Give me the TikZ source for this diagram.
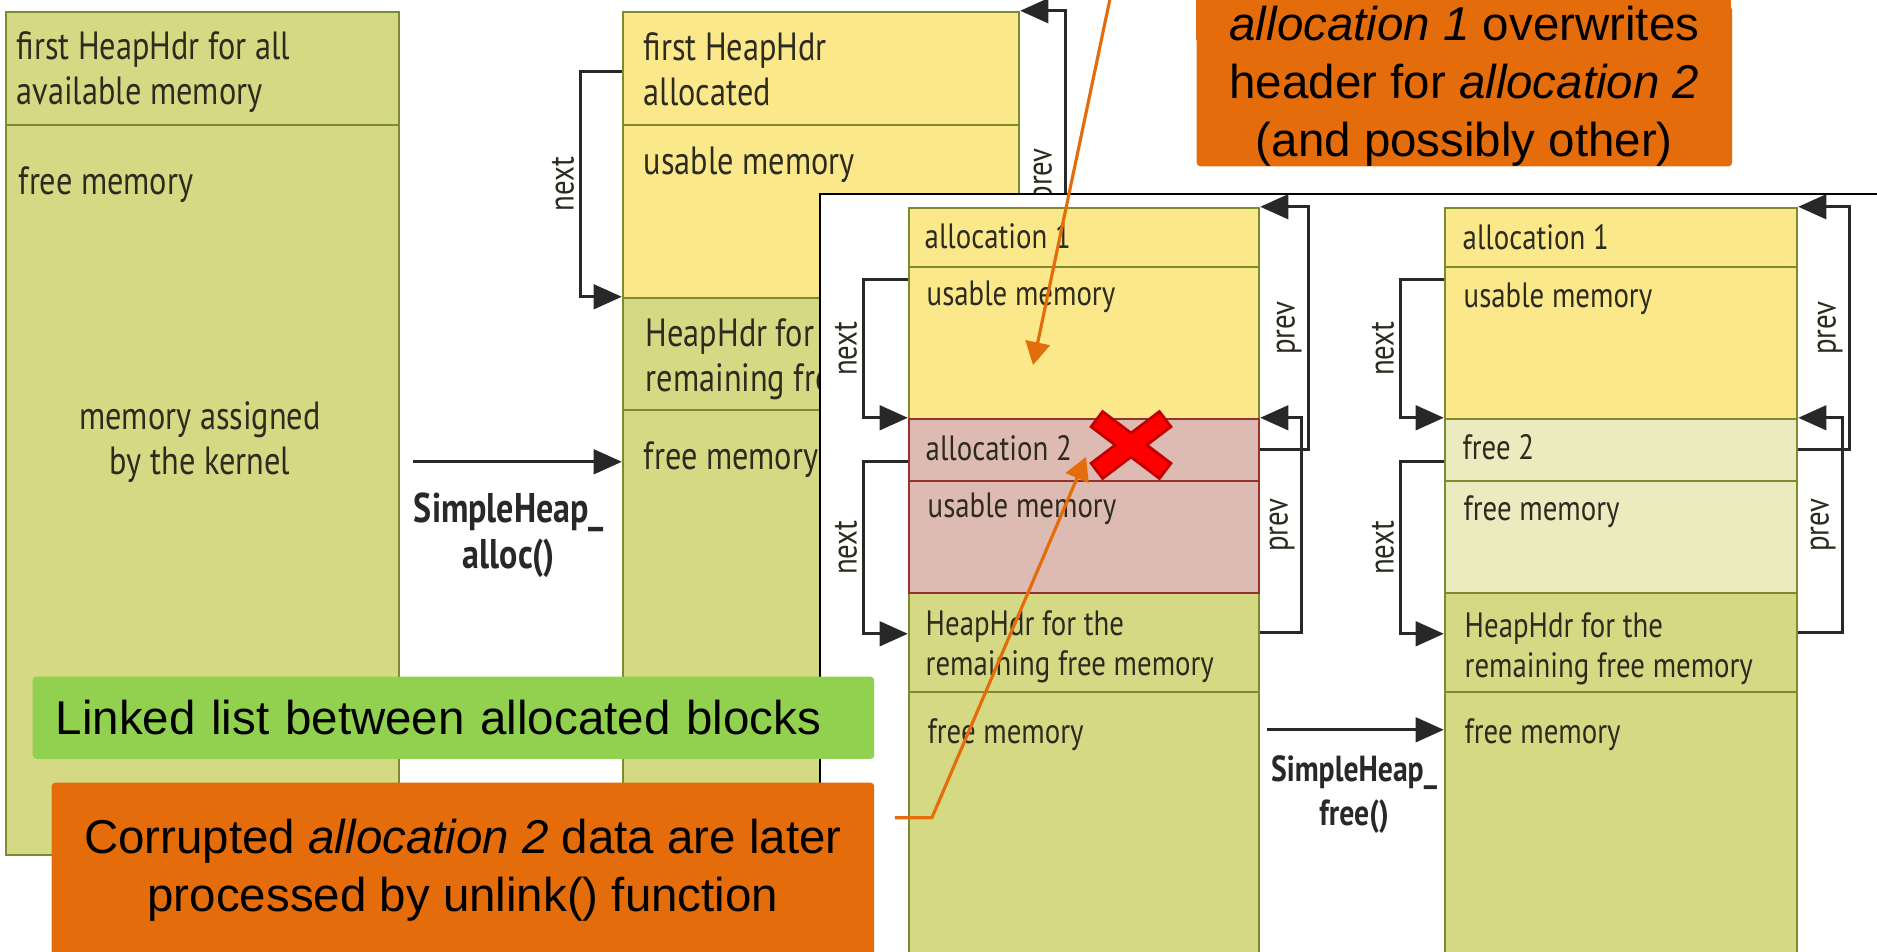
\documentclass[tikz,border=0pt]{standalone}
\usepackage{fontspec}
\setmainfont{Liberation Sans}
\newfontfamily\memfont[FakeStretch=0.82]{PT Sans}
\usepackage{tikz}
\usetikzlibrary{positioning,fit,calc,arrows.meta}

\definecolor{rowGreen}{RGB}{213,217,131}
\definecolor{rowYellow}{RGB}{250,232,138}
\definecolor{rowPink}{RGB}{221,186,178}
\definecolor{rowPale}{RGB}{234,236,192}
\definecolor{rowEdge}{RGB}{125,138,45}
\definecolor{pinkEdge}{RGB}{150,50,45}
\definecolor{memText}{RGB}{45,42,30}
\definecolor{linkGray}{RGB}{40,40,40}
\definecolor{noteOrange}{RGB}{228,108,10}
\definecolor{noteGreen}{RGB}{146,208,80}
\definecolor{crossRed}{RGB}{255,0,0}
\definecolor{crossEdge}{RGB}{192,0,0}

\begin{document}
\begin{tikzpicture}[x=0.01cm,y=0.01cm,
    memrow/.style={draw=rowEdge,line width=0.7pt,inner sep=0pt},
    greenrow/.style={memrow,fill=rowGreen},
    yellowrow/.style={memrow,fill=rowYellow},
    pinkrow/.style={memrow,fill=rowPink,draw=pinkEdge},
    palerow/.style={memrow,fill=rowPale},
    memtxt/.style={font=\memfont\fontsize{10}{11.5}\selectfont,text=memText,
        anchor=north west,inner sep=0pt,align=left},
    bigtxt/.style={memtxt,font=\memfont\fontsize{11.2}{12.8}\selectfont},
    ptrlbl/.style={font=\memfont\fontsize{10}{12}\selectfont,text=memText,
        rotate=90,inner sep=1.5pt},
    fnlbl/.style={font=\memfont\bfseries\fontsize{11.8}{13}\selectfont,
        text=linkGray,align=center,inner sep=0pt},
    link/.style={draw=linkGray,line width=0.8pt,-{Triangle[length=8pt,width=7pt]}},
    hint/.style={draw=noteOrange,line width=0.9pt,-{Triangle[length=6.5pt,width=7pt]}},
    notebox/.style={fill=noteOrange,rounded corners=1pt,inner sep=0pt,align=center,
        font=\fontsize{13.5}{16.5}\selectfont},
    xstroke/.style={line width=#1,line cap=butt}
]
\fill[white] (0,0) rectangle (1877,-951);
\useasboundingbox (0,0) rectangle (1877,-951);
\clip (0,0) rectangle (1877,-951);

% whole heap before any allocation
\node[greenrow,fit={(6,-12) (399,-125)}] (a1) {};
\node[greenrow,fit={(6,-125) (399,-855)}] (a2) {};
\node[bigtxt] (a1t) at (16,-31) {first HeapHdr for all\\available memory};
\node[bigtxt] (a2t) at (18,-166) {free memory};
\node[bigtxt,anchor=center,align=center] (a2m) at (200,-442) {memory assigned\\by the kernel};

% heap after the first allocation
\node[yellowrow,fit={(623,-12) (1019,-125)}] (b1) {};
\node[yellowrow,fit={(623,-125) (1019,-298)}] (b2) {};
\node[greenrow,fit={(623,-298) (1019,-410)}] (b3) {};
\node[greenrow,fit={(623,-410) (1019,-855)}] (b4) {};
\node[bigtxt] (b1t) at (643,-32) {first HeapHdr\\allocated};
\node[bigtxt] (b2t) at (643,-146) {usable memory};
\node[bigtxt] (b3t) at (645,-318) {HeapHdr for the\\remaining free memory};
\node[bigtxt] (b4t) at (643,-441) {free memory};
\draw[link] ([shift={(0,-61)}]b1.north west) -- ++(-41,0)
    |- node[ptrlbl,pos=0.25,above] (bnext) {next} (b3.north west);
\draw[link] ([shift={(0,-42)}]b3.north east) -- ++(45,0)
    |- node[ptrlbl,pos=0.25,above] (bprev) {prev} (b1.north east);

\draw[link] ([shift={(13,-338)}]a2.north east) -- ([shift={(0,-53)}]b4.north west);
\node[fnlbl] (alloclbl) at (509,-535) {SimpleHeap\_\\alloc()};

% inset: overflow and free
\node[draw=black,line width=0.8pt,fill=white,inner sep=0pt,
    fit={(820,-194) (1900,-990)}] (inset) {};

\node[yellowrow,fit={(909,-208) (1259,-267)}] (c1) {};
\node[yellowrow,fit={(909,-267) (1259,-419)}] (c2) {};
\node[greenrow,fit={(909,-593) (1259,-692)}] (c5) {};
\node[greenrow,fit={(909,-692) (1259,-990)}] (c6) {};
\node[pinkrow,fit={(909,-419) (1259,-481)}] (c3) {};
\node[pinkrow,fit={(909,-481) (1259,-593)}] (c4) {};
\node[memtxt] (c1t) at (924,-223) {allocation 1};
\node[memtxt] (c2t) at (926,-280) {usable memory};
\node[memtxt] (c3t) at (925,-435) {allocation 2};
\node[memtxt] (c4t) at (927,-492) {usable memory};
\node[memtxt] (c5t) at (925,-610) {HeapHdr for the\\remaining free memory};
\node[memtxt] (c6t) at (927,-718) {free memory};
\draw[link] ([shift={(0,-14)}]c2.north west) -- ++(-44,0)
    |- node[ptrlbl,pos=0.25,above] (cnext1) {next} (c3.north west);
\draw[link] ([shift={(0,-44)}]c3.north west) -- ++(-44,0)
    |- node[ptrlbl,pos=0.25,above] (cnext2) {next} ([shift={(0,-42)}]c5.north west);
\draw[link] ([shift={(0,-32)}]c3.north east) -- ++(48,0)
    |- node[ptrlbl,pos=0.25,above] (cprev1) {prev} (c1.north east);
\draw[link] ([shift={(0,-41)}]c5.north east) -- ++(41,0)
    |- node[ptrlbl,pos=0.25,above] (cprev2) {prev} (c3.north east);

\node[yellowrow,fit={(1445,-208) (1797,-267)}] (d1) {};
\node[yellowrow,fit={(1445,-267) (1797,-419)}] (d2) {};
\node[palerow,fit={(1445,-419) (1797,-481)}] (d3) {};
\node[palerow,fit={(1445,-481) (1797,-593)}] (d4) {};
\node[greenrow,fit={(1445,-593) (1797,-692)}] (d5) {};
\node[greenrow,fit={(1445,-692) (1797,-990)}] (d6) {};
\node[memtxt] (d1t) at (1462,-224) {allocation 1};
\node[memtxt] (d2t) at (1463,-282) {usable memory};
\node[memtxt] (d3t) at (1462,-434) {free 2};
\node[memtxt] (d4t) at (1463,-495) {free memory};
\node[memtxt] (d5t) at (1464,-612) {HeapHdr for the\\remaining free memory};
\node[memtxt] (d6t) at (1464,-718) {free memory};
\draw[link] ([shift={(0,-14)}]d2.north west) -- ++(-43,0)
    |- node[ptrlbl,pos=0.25,above] (dnext1) {next} (d3.north west);
\draw[link] ([shift={(0,-44)}]d3.north west) -- ++(-43,0)
    |- node[ptrlbl,pos=0.25,above] (dnext2) {next} ([shift={(0,-42)}]d5.north west);
\draw[link] ([shift={(0,-32)}]d3.north east) -- ++(51,0)
    |- node[ptrlbl,pos=0.25,above] (dprev1) {prev} (d1.north east);
\draw[link] ([shift={(0,-41)}]d5.north east) -- ++(44,0)
    |- node[ptrlbl,pos=0.25,above] (dprev2) {prev} (d3.north east);

\draw[link] ([shift={(7,-39)}]c6.north east) -- ([shift={(0,-39)}]d6.north west);
\node[fnlbl,font=\memfont\bfseries\fontsize{10.3}{12.5}\selectfont] (freelbl)
    at (1354,-795) {SimpleHeap\_\\free()};

% red cross on the broken header
\coordinate (xmark) at (1131,-445);
\foreach \s in {1,-1}
    \draw[crossEdge,xstroke=6.2pt,shorten <=-0.8pt,shorten >=-0.8pt]
        ([shift={(-33,25*\s)}]xmark) -- ([shift={(33,-25*\s)}]xmark);
\foreach \s in {1,-1}
    \draw[crossRed,xstroke=4.6pt]
        ([shift={(-33,25*\s)}]xmark) -- ([shift={(33,-25*\s)}]xmark);

% notes
\fill[noteOrange] (1196,-40) rectangle (1731,20);
\node[notebox,minimum width=5.35cm,minimum height=1.58cm,anchor=south west]
    (overwr) at (1196,-167)
    {\textit{allocation 1} overwrites\\header for \textit{allocation 2}\\(and possibly other)};
\node[fill=noteGreen,rounded corners=1pt,anchor=north west,minimum height=0.82cm,
    text width=7.95cm,inner xsep=0.23cm,inner ysep=0pt,align=left,
    font=\fontsize{13.5}{16.5}\selectfont] (listnote) at (32,-676)
    {Linked list between allocated blocks};
\node[notebox,minimum width=8.22cm,minimum height=1.74cm,anchor=north west]
    (corrupt) at (51,-782)
    {Corrupted \textit{allocation 2} data are later\\processed by unlink() function};

\coordinate (ovsrc) at (1111,6);
\coordinate (ovhit) at (1033,-365);
\coordinate (crhit) at (1086,-457);
\draw[hint] (ovsrc) -- (ovhit);
\draw[hint] ([shift={(20,52)}]corrupt.east) -- ++(37,0) -- (crhit);
\end{tikzpicture}
\end{document}
